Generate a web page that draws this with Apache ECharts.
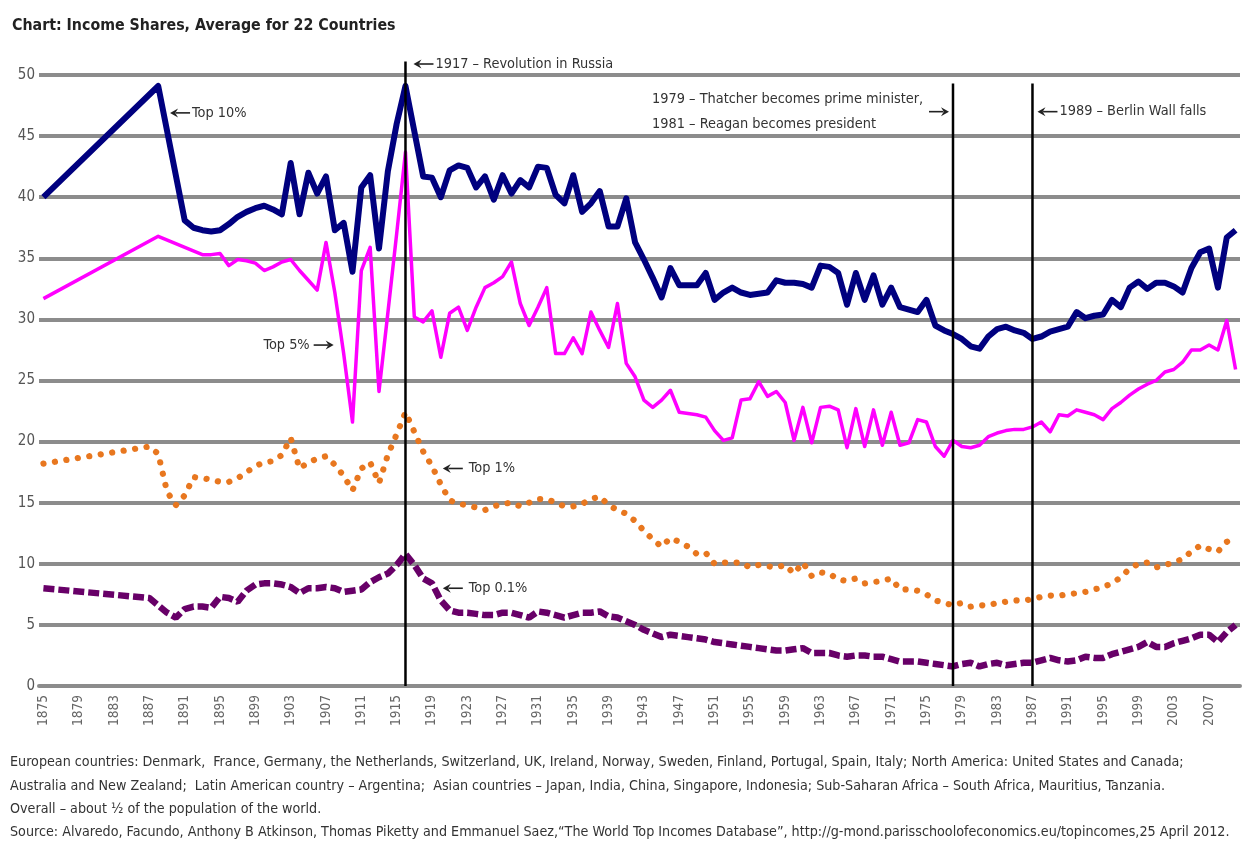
<!DOCTYPE html>
<html>
<head>
<meta charset="utf-8">
<title>Income Shares, Average for 22 Countries</title>
<script src="https://cdn.jsdelivr.net/npm/echarts@6/dist/echarts.min.js"></script>
<style>
  html, body { margin: 0; padding: 0; background: #fff; }
  #chart { width: 1246px; height: 842px; }
</style>
</head>
<body>
<div id="chart"></div>
<script>
// categories: one per year
const years = [];
for (let y = 1875; y <= 2010; y++) years.push(String(y));

// income shares in %, one value per year (null = no observation, line is joined)
const top10 = [
  40.0, null, null, null, null, null, null, null, null, null,   // 1875
  null, null, null, 49.1, null, null, 38.1, 37.5, 37.3, 37.2,   // 1885
  37.3, 37.8, 38.4, 38.8, 39.1, 39.3, 39.0, 38.6, 42.8, 38.6,   // 1895
  42.0, 40.3, 41.7, 37.3, 37.9, 33.9, 40.8, 41.8, 35.8, 42.1,   // 1905
  46.0, 49.1, 45.4, 41.7, 41.6, 40.0, 42.2, 42.6, 42.4, 40.8,   // 1915
  41.7, 39.8, 41.8, 40.3, 41.4, 40.8, 42.5, 42.4, 40.2, 39.5,   // 1925
  41.8, 38.8, 39.5, 40.5, 37.6, 37.6, 39.9, 36.3, 34.9, 33.4,   // 1935
  31.8, 34.2, 32.8, 32.8, 32.8, 33.8, 31.6, 32.2, 32.6, 32.2,   // 1945
  32.0, 32.1, 32.2, 33.2, 33.0, 33.0, 32.9, 32.6, 34.4, 34.3,   // 1955
  33.8, 31.2, 33.8, 31.6, 33.6, 31.2, 32.6, 31.0, 30.8, 30.6,   // 1965
  31.6, 29.5, 29.1, 28.8, 28.4, 27.8, 27.6, 28.6, 29.2, 29.4,   // 1975
  29.1, 28.9, 28.4, 28.6, 29.0, 29.2, 29.4, 30.6, 30.1, 30.3,   // 1985
  30.4, 31.6, 31.0, 32.6, 33.1, 32.5, 33.0, 33.0, 32.7, 32.2,   // 1995
  34.2, 35.5, 35.8, 32.6, 36.7, 37.3                            // 2005
];
const top5 = [
  31.7, null, null, null, null, null, null, null, null, null,
  null, null, null, 36.8, null, null, null, null, 35.3, 35.3,
  35.4, 34.4, 34.9, 34.8, 34.6, 34.0, 34.3, 34.7, 34.9, 34.0,
  33.2, 32.4, 36.3, 32.2, 27.2, 21.6, 34.0, 35.9, 24.1, 30.5,
  37.0, 43.7, 30.2, 29.8, 30.7, 26.9, 30.5, 31.0, 29.1, 31.0,
  32.6, 33.0, 33.5, 34.7, 31.3, 29.5, 31.0, 32.6, 27.2, 27.2,
  28.5, 27.2, 30.6, 29.1, 27.7, 31.3, 26.4, 25.3, 23.4, 22.8,
  23.4, 24.2, 22.4, 22.3, 22.2, 22.0, 20.9, 20.1, 20.3, 23.4,
  23.5, 24.9, 23.7, 24.1, 23.2, 20.1, 22.8, 19.9, 22.8, 22.9,
  22.6, 19.5, 22.7, 19.6, 22.6, 19.7, 22.4, 19.7, 19.9, 21.8,
  21.6, 19.6, 18.8, 20.1, 19.6, 19.5, 19.7, 20.4, 20.7, 20.9,
  21.0, 21.0, 21.2, 21.6, 20.8, 22.2, 22.1, 22.6, 22.4, 22.2,
  21.8, 22.7, 23.2, 23.8, 24.3, 24.7, 25.0, 25.7, 25.9, 26.5,
  27.5, 27.5, 27.9, 27.5, 29.9, 25.9
];
const top1 = [
  18.2, null, null, null, null, null, null, null, null, null,
  null, null, 19.6, 19.0, 15.9, 14.8, 15.6, 17.1, 17.0, 16.9,
  16.7, 16.7, 17.0, 17.5, 18.0, 18.3, 18.4, 18.9, 20.3, 17.8,
  18.3, 18.6, 18.8, 18.1, 17.2, 16.0, 17.8, 18.3, 16.6, 18.9,
  20.6, 22.4, 20.8, 19.2, 18.0, 16.5, 15.2, 14.9, 14.8, 14.6,
  14.4, 14.7, 14.9, 15.0, 14.7, 15.0, 15.3, 15.3, 15.0, 14.7,
  14.7, 14.9, 15.3, 15.5, 14.8, 14.4, 14.1, 13.5, 12.7, 12.0,
  11.4, 12.1, 11.8, 11.4, 10.8, 10.9, 10.0, 10.1, 10.1, 10.1,
  9.7, 9.9, 9.8, 9.7, 9.9, 9.2, 10.1, 9.0, 9.3, 9.2,
  8.7, 8.6, 8.8, 8.4, 8.5, 8.6, 8.8, 7.9, 7.9, 7.8,
  7.5, 7.0, 6.8, 6.6, 6.8, 6.5, 6.6, 6.6, 6.8, 6.9,
  7.0, 7.0, 7.1, 7.3, 7.4, 7.4, 7.5, 7.6, 7.7, 7.9,
  8.1, 8.4, 8.9, 9.6, 10.0, 10.1, 9.7, 9.9, 10.1, 10.4,
  11.0, 11.5, 11.2, 11.0, 11.8, 12.2
];
const top01 = [
  8.0, null, null, null, null, null, null, null, null, null,
  null, null, 7.2, 6.6, 6.0, 5.6, 6.3, 6.5, 6.5, 6.4,
  7.3, 7.2, 6.9, 7.8, 8.3, 8.4, 8.4, 8.3, 8.1, 7.6,
  8.0, 8.0, 8.1, 8.0, 7.7, 7.8, 7.9, 8.5, 8.9, 9.2,
  9.9, 10.8, 9.9, 8.8, 8.4, 7.0, 6.2, 6.0, 6.0, 5.9,
  5.8, 5.8, 6.0, 6.0, 5.8, 5.6, 6.1, 6.0, 5.8, 5.6,
  5.8, 6.0, 6.0, 6.1, 5.7, 5.6, 5.3, 5.0, 4.6, 4.3,
  4.0, 4.2, 4.1, 4.0, 3.9, 3.8, 3.6, 3.5, 3.4, 3.3,
  3.2, 3.1, 3.0, 2.9, 2.9, 3.0, 3.1, 2.7, 2.7, 2.7,
  2.5, 2.4, 2.5, 2.5, 2.4, 2.4, 2.2, 2.0, 2.0, 2.0,
  1.9, 1.8, 1.7, 1.6, 1.8, 1.9, 1.6, 1.8, 1.9, 1.7,
  1.8, 1.9, 1.9, 2.1, 2.3, 2.1, 2.0, 2.1, 2.4, 2.3,
  2.3, 2.6, 2.8, 3.0, 3.2, 3.6, 3.2, 3.2, 3.5, 3.7,
  3.9, 4.2, 4.2, 3.6, 4.4, 5.0
];

// historical events: where the vertical line sits and how high it reaches
const eventYears = ['1916', '1978', '1987'];
const eventTops = [51.1, 49.3, 49.3];

const titleText = 'Chart: Income Shares, Average for 22 Countries';
const footerLines = [
  'European countries: Denmark,  France, Germany, the Netherlands, Switzerland, UK, Ireland, Norway, Sweden, Finland, Portugal, Spain, Italy; North America: United States and Canada;',
  'Australia and New Zealand;  Latin American country \u2013 Argentina;  Asian countries \u2013 Japan, India, China, Singapore, Indonesia; Sub-Saharan Africa \u2013 South Africa, Mauritius, Tanzania.',
  'Overall \u2013 about \u00bd of the population of the world.',
  'Source: Alvaredo, Facundo, Anthony B Atkinson, Thomas Piketty and Emmanuel Saez,\u201cThe World Top Incomes Database\u201d, http://g-mond.parisschoolofeconomics.eu/topincomes,25 April 2012.'
];

const FONT = '"Liberation Sans Narrow", "DejaVu Sans Condensed", "Open Sans", sans-serif';
const GRID_GREY = '#8c8c8c';
const TEXT = '#333';

// pick a font size so the text covers the same width as in the original
const measureCtx = document.createElement('canvas').getContext('2d');
function fitSize(text, weight, targetWidth) {
  measureCtx.font = weight + ' 100px ' + FONT;
  return Math.floor(1000 * targetWidth / measureCtx.measureText(text).width) / 10;
}
const titleSize = fitSize(titleText, 'bold', 385);
const footerSize = Math.min(fitSize(footerLines[0], 'normal', 1228), fitSize(footerLines[3], 'normal', 1228));
const noteSize = fitSize('1917 \u2013 Revolution in Russia', 'normal', 178);

const chart = echarts.init(document.getElementById('chart'));

chart.setOption({
  animation: false,
  backgroundColor: '#fff',
  title: {
    text: titleText,
    left: 7,
    top: 13,
    textStyle: { fontFamily: FONT, fontSize: titleSize, fontWeight: 'bold', color: '#222' }
  },
  grid: { left: 39, right: 6, top: 75, bottom: 156 },
  xAxis: {
    type: 'category',
    data: years,
    boundaryGap: true,
    axisLine: { lineStyle: { color: GRID_GREY, width: 4 } },
    axisTick: { interval: 0, length: 6, lineStyle: { color: '#999', width: 2 } },
    axisLabel: { interval: 3, rotate: 90, margin: 9, color: '#666', fontSize: 13.5, fontFamily: FONT },
    splitLine: { show: false }
  },
  yAxis: {
    type: 'value',
    min: 0,
    max: 50,
    interval: 5,
    axisLine: { show: false },
    axisTick: { show: false },
    axisLabel: { color: '#555', fontSize: 15, margin: 4, fontFamily: FONT },
    splitLine: { lineStyle: { color: GRID_GREY, width: 4 } }
  },
  series: [
    {
      name: 'Top 0.1%', type: 'line', data: top01, connectNulls: true, showSymbol: false, symbol: 'none',
      lineStyle: { color: '#680068', width: 6.5, type: [11, 4] }
    },
    {
      name: 'Top 1%', type: 'line', data: top1, connectNulls: true, showSymbol: false, symbol: 'none',
      lineStyle: { color: '#e8771f', width: 6.2, type: [0.1, 11.5], cap: 'round' }
    },
    {
      name: 'Top 5%', type: 'line', data: top5, connectNulls: true, showSymbol: false, symbol: 'none',
      lineStyle: { color: '#ff00ff', width: 3.5, join: 'round' }
    },
    {
      name: 'Top 10%', type: 'line', data: top10, connectNulls: true, showSymbol: false, symbol: 'none',
      lineStyle: { color: '#00007f', width: 6, join: 'round' }
    }
  ]
});

// annotations are placed from axis coordinates
function px(year, v) {
  return chart.convertToPixel({ xAxisIndex: 0, yAxisIndex: 0 }, [year, v]);
}

// small black arrow; dir -1 points left, +1 points right
function arrow(tipX, y, dir) {
  const len = 20, head = 8;
  return [
    { type: 'line', shape: { x1: tipX - dir * len, y1: y, x2: tipX - dir * head * 0.7, y2: y },
      style: { stroke: '#222', lineWidth: 1.6 } },
    { type: 'polygon', shape: { points: [[tipX, y], [tipX - dir * head, y - 4.5], [tipX - dir * head * 0.65, y], [tipX - dir * head, y + 4.5]] },
      style: { fill: '#222' } }
  ];
}

function note(text, x, y, align) {
  return {
    type: 'text', x: x, y: y,
    style: { text: text, fill: TEXT, font: noteSize + 'px ' + FONT, align: align, verticalAlign: 'middle', lineHeight: 25 }
  };
}

const elements = [];

// vertical event lines
eventYears.forEach((yr, i) => {
  const top = px(yr, eventTops[i]);
  const bottom = px(yr, 0);
  elements.push({ type: 'line', shape: { x1: top[0], y1: top[1], x2: bottom[0], y2: bottom[1] },
    style: { stroke: '#000', lineWidth: 2.5 }, z: 10 });
});

// event labels
let p = px(eventYears[0], 50.9);
elements.push(...arrow(p[0] + 8, p[1], -1), note('1917 \u2013 Revolution in Russia', p[0] + 30, p[1], 'left'));
p = px(eventYears[1], 47.0);
elements.push(...arrow(p[0] - 4, p[1], 1),
  note('1979 \u2013 Thatcher becomes prime minister,\n1981 \u2013 Reagan becomes president', p[0] - 301, p[1], 'left'));
p = px(eventYears[2], 47.0);
elements.push(...arrow(p[0] + 5, p[1], -1), note('1989 \u2013 Berlin Wall falls', p[0] + 27, p[1], 'left'));

// series labels
p = px('1889', 46.9);
elements.push(...arrow(p[0] + 3, p[1], -1), note('Top 10%', p[0] + 25, p[1], 'left'));
p = px('1909', 27.9);
elements.push(...arrow(p[0] - 10, p[1], 1), note('Top 5%', p[0] - 34, p[1], 'right'));
p = px('1920', 17.8);
elements.push(...arrow(p[0] + 2, p[1], -1), note('Top 1%', p[0] + 28, p[1], 'left'));
p = px('1920', 8.0);
elements.push(...arrow(p[0] + 2, p[1], -1), note('Top 0.1%', p[0] + 28, p[1], 'left'));

// footer notes
const footerY = [762, 786, 809, 832];
footerLines.forEach((line, i) => {
  elements.push({ type: 'text', x: 10, y: footerY[i],
    style: { text: line, fill: TEXT, font: footerSize + 'px ' + FONT, verticalAlign: 'middle' } });
});

chart.setOption({ graphic: { elements: elements } });
</script>
</body>
</html>
